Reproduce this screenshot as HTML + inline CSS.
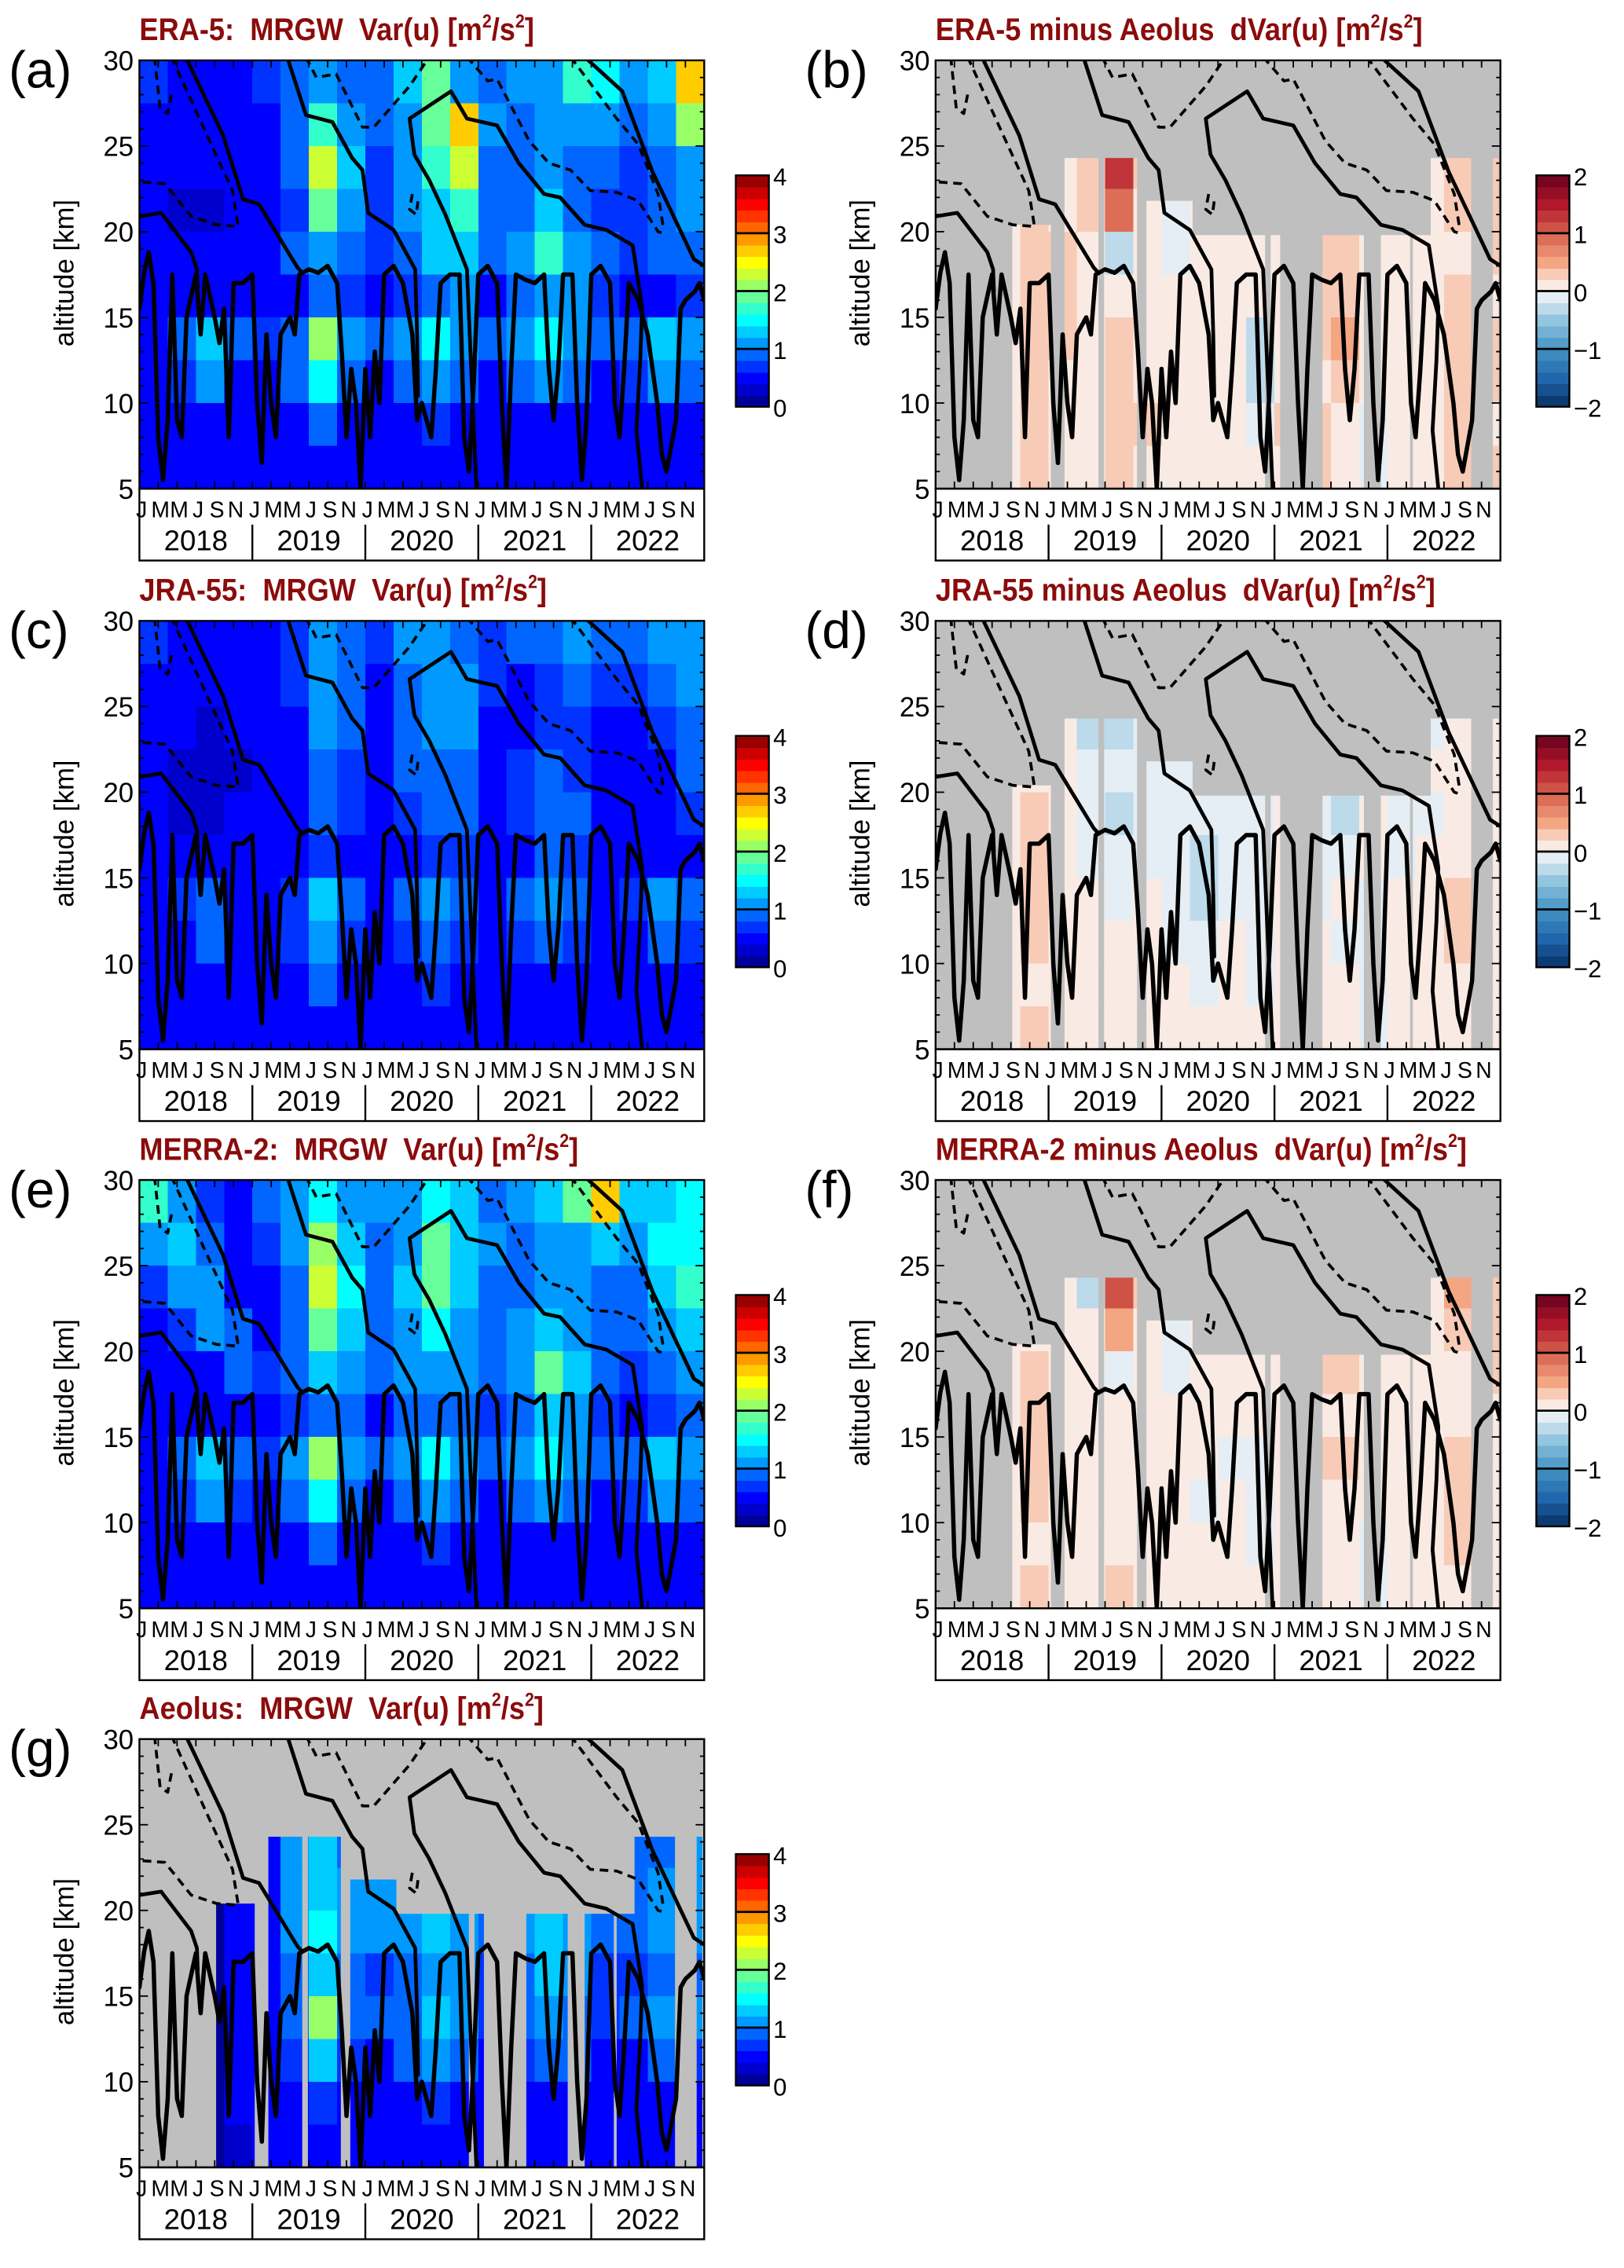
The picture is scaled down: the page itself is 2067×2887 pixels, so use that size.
<!DOCTYPE html>
<html><head><meta charset="utf-8"><style>
html,body{margin:0;padding:0;background:#fff;}
svg{display:block;}
text{font-family:"Liberation Sans",sans-serif;}
</style></head><body>
<svg id="fig" xmlns="http://www.w3.org/2000/svg" width="2067" height="2887" viewBox="0 0 1130 1578" preserveAspectRatio="none"></svg>
<script>
// ---------------- data ----------------
const yearLabels = ['2018','2019','2020','2021','2022'];
const monthLabels = ['J','M','M','J','S','N'];
const altTicks = [5,10,15,20,25,30];
const jetTicks = [0,1,2,3,4];
const divTicks = [-2,-1,0,1,2];
// grids: 10 rows (top 27.5-30 km first ... bottom 5-7.5 km), 20 columns (quarters 2018Q1..2022Q4)
const era5 = [
[0.7,0.5,0.6,0.5,0.7,0.8,1.1,0.8,0.9,1.4,1.8,1.2,0.9,1.0,1.2,1.7,1.5,1.0,1.4,2.6],
[0.5,0.4,0.4,0.5,0.6,0.9,1.6,1.1,0.8,1.2,1.8,2.6,1.0,0.8,1.0,1.1,1.0,0.9,1.1,2.0],
[0.5,0.4,0.4,0.4,0.5,0.8,2.3,1.3,0.7,1.1,1.7,2.3,0.9,0.8,1.0,0.9,0.8,0.7,0.9,1.2],
[0.4,0.3,0.3,0.4,0.5,0.7,1.8,1.1,0.7,1.0,1.4,1.6,0.8,0.9,1.3,0.9,0.7,0.7,0.8,1.0],
[0.5,0.4,0.4,0.5,0.6,0.8,1.2,0.9,0.7,0.9,1.3,1.4,0.8,1.0,1.7,1.2,0.8,0.7,0.8,0.9],
[0.5,0.5,0.5,0.5,0.5,0.6,0.8,0.7,0.6,0.7,0.9,1.0,0.6,0.8,1.2,1.0,0.7,0.6,0.6,0.7],
[0.6,0.9,1.3,0.8,0.7,0.9,2.0,1.0,0.8,1.0,1.5,1.1,0.8,1.0,1.5,1.0,0.8,0.9,1.3,1.0],
[0.5,0.7,1.0,0.6,0.6,0.8,1.5,0.8,0.6,0.8,1.0,0.8,0.6,0.8,1.0,0.8,0.6,0.7,1.0,0.8],
[0.4,0.5,0.6,0.5,0.4,0.6,0.9,0.6,0.5,0.6,0.7,0.6,0.5,0.6,0.6,0.6,0.5,0.5,0.6,0.6],
[0.4,0.4,0.5,0.4,0.4,0.5,0.6,0.5,0.4,0.5,0.6,0.5,0.4,0.5,0.5,0.5,0.4,0.4,0.5,0.5]];
const jra55 = [
[0.7,0.5,0.6,0.5,0.6,0.7,1.0,0.8,0.7,1.0,1.1,0.9,0.7,0.8,0.9,1.0,0.9,0.8,1.0,1.2],
[0.5,0.4,0.4,0.4,0.5,0.7,1.0,0.9,0.6,0.9,1.0,1.0,0.7,0.6,0.7,0.8,0.7,0.7,0.9,1.1],
[0.4,0.4,0.3,0.4,0.4,0.6,1.0,0.8,0.6,0.8,1.0,1.0,0.6,0.6,0.7,0.7,0.6,0.6,0.7,0.9],
[0.4,0.3,0.3,0.3,0.4,0.6,0.9,0.7,0.6,0.8,0.9,0.8,0.6,0.7,0.8,0.7,0.5,0.5,0.6,0.8],
[0.4,0.3,0.3,0.4,0.5,0.6,0.8,0.7,0.5,0.7,0.9,0.8,0.6,0.7,0.9,0.8,0.6,0.5,0.6,0.7],
[0.4,0.4,0.4,0.4,0.4,0.5,0.7,0.6,0.5,0.6,0.7,0.7,0.5,0.6,0.8,0.7,0.5,0.5,0.5,0.6],
[0.5,0.7,0.9,0.6,0.6,0.7,1.4,0.8,0.6,0.8,1.1,0.8,0.6,0.8,1.1,0.8,0.6,0.7,1.0,0.8],
[0.4,0.6,0.8,0.5,0.5,0.7,1.2,0.7,0.5,0.7,0.9,0.7,0.5,0.7,0.9,0.7,0.5,0.6,0.9,0.7],
[0.4,0.5,0.6,0.5,0.4,0.5,0.8,0.6,0.5,0.6,0.7,0.6,0.5,0.6,0.6,0.6,0.5,0.5,0.6,0.6],
[0.4,0.4,0.5,0.4,0.4,0.5,0.6,0.5,0.4,0.5,0.6,0.5,0.4,0.5,0.5,0.5,0.4,0.4,0.5,0.5]];
const merra2 = [
[1.6,1.1,0.7,0.6,0.8,1.0,1.5,1.1,1.0,1.2,1.5,1.3,0.9,1.0,1.3,1.8,2.8,1.4,1.3,1.5],
[1.1,1.3,0.8,0.6,0.7,1.0,2.0,1.3,0.9,1.2,1.8,1.4,1.0,0.9,1.0,1.2,1.4,1.2,1.5,1.5],
[0.7,1.0,1.1,0.6,0.6,0.9,2.3,1.5,0.8,1.3,1.9,1.3,0.9,0.9,1.0,1.0,0.9,0.9,1.3,1.7],
[0.5,0.7,1.0,0.8,0.6,0.8,1.8,1.3,0.9,1.2,1.5,1.2,0.9,1.0,1.4,1.0,0.8,0.8,1.0,1.3],
[0.5,0.5,0.6,0.9,0.7,0.9,1.3,1.1,0.8,1.0,1.2,1.1,0.8,1.2,1.8,1.3,0.8,0.7,0.9,1.0],
[0.6,0.6,0.6,0.6,0.6,0.7,0.9,0.8,0.6,0.8,0.9,0.9,0.7,0.9,1.3,1.0,0.7,0.6,0.7,0.8],
[0.6,0.9,1.3,0.9,0.7,1.0,2.0,1.1,0.8,1.0,1.5,1.1,0.8,1.0,1.5,1.0,0.8,0.9,1.3,1.0],
[0.5,0.7,1.0,0.7,0.6,0.8,1.5,0.8,0.6,0.8,1.0,0.8,0.6,0.8,1.0,0.8,0.6,0.7,1.0,0.8],
[0.4,0.5,0.6,0.5,0.4,0.6,0.9,0.6,0.5,0.6,0.7,0.6,0.5,0.6,0.6,0.6,0.5,0.5,0.6,0.6],
[0.4,0.4,0.5,0.4,0.4,0.5,0.6,0.5,0.4,0.5,0.6,0.5,0.4,0.5,0.5,0.5,0.4,0.4,0.5,0.5]];
const aeolus = [
[0,0,0,0,0,0,0,0,0,0,0,0,0,0,0,0,0,0,0,0],
[0,0,0,0,0,0,0,0,0,0,0,0,0,0,0,0,0,0,0,0],
[0,0,0,0,0.5,1.0,1.3,0.8,0,0,0,0,0,0,0,0,0,0.8,0.9,1.0],
[0,0,0,0.5,0.6,1.0,1.4,1.0,1.2,1.0,0,0,0,0,0,0,0,0.9,1.0,1.0],
[0,0,0,0.5,0.6,1.0,1.5,1.0,1.1,1.0,1.3,1.2,0.9,1.1,1.3,1.0,0.8,0.8,1.0,1.0],
[0,0,0,0.6,0.6,0.8,1.3,0.8,0.7,0.8,1.0,1.2,0.7,0.8,1.3,1.0,0.7,0.7,0.8,0.9],
[0,0,0,0.6,0.6,0.9,2.1,0.9,0.8,0.9,1.4,1.1,0.7,0.8,1.2,0.9,0.7,0.8,1.1,1.0],
[0,0,0,0.5,0.5,0.7,1.4,0.7,0.6,0.8,1.0,0.9,0.5,0.7,0.9,0.8,0.6,0.6,0.8,0.7],
[0,0,0,0.4,0.4,0.5,0.7,0.5,0.5,0.6,0.7,0.6,0.4,0.5,0.6,0.6,0.5,0.5,0.5,0.5],
[0,0,0,0.3,0.4,0.4,0.5,0.4,0.4,0.5,0.6,0.5,0.4,0.5,0.5,0.5,0.4,0.4,0.4,0.4]];
const diffEra5 = [
[0,0,0,0,0,0,0,0,0,0,0,0,0,0,0,0,0,0,0,0],
[0,0,0,0,0,0,0,0,0,0,0,0,0,0,0,0,0,0,0,0],
[0,0,0,0,0,0.2,1.3,0.3,0,0,0,0,0,0,0,0,0,0.1,0.3,0.2],
[0,0,0,0.2,0,0.2,0.9,0.1,-0.1,0,0,0,0,0,0,0,0,0.1,0.2,0.2],
[0,0,0,0.2,0.2,0.1,-0.3,0.0,-0.1,0.1,0.1,0.1,0.1,0.2,0.2,0.0,0.1,0.1,0.1,0.2],
[0,0,0,0.3,0.2,0.1,0.0,0.1,0.1,0.1,0.1,0.0,0.1,0.2,0.2,0.1,0.1,0.1,0.2,0.1],
[0,0,0,0.3,0.2,0.1,0.2,0.1,0.1,0.1,0.0,-0.3,0.1,0.3,0.4,0.1,0.1,0.1,0.3,0.2],
[0,0,0,0.2,0.1,0.1,0.2,0.1,0.1,0.0,0.1,-0.3,0.1,0.1,0.2,0.0,0.0,0.1,0.2,0.2],
[0,0,0,0.2,0.1,0.1,0.2,0.2,0.1,0.0,0.1,-0.2,0.2,0.2,0.1,-0.1,0.0,0.1,0.3,0.1],
[0,0,0,0.2,0.1,0.1,0.3,0.1,0.1,0.0,0.1,0.0,0.0,0.2,0.0,-0.2,0.0,0.1,0.2,0.2]];
const diffJra55 = [
[0,0,0,0,0,0,0,0,0,0,0,0,0,0,0,0,0,0,0,0],
[0,0,0,0,0,0,0,0,0,0,0,0,0,0,0,0,0,0,0,0],
[0,0,0,0,0,-0.4,-0.3,-0.1,0,0,0,0,0,0,0,0,0,-0.1,0.1,0.1],
[0,0,0,0.1,0,-0.1,-0.2,-0.1,-0.2,-0.1,0,0,0,0,0,0,0,0,0.1,0.1],
[0,0,0,0.2,0,-0.2,-0.4,-0.2,-0.2,-0.1,-0.1,-0.1,0,-0.2,-0.3,0,-0.1,-0.1,0,0.1],
[0,0,0,0.2,0,-0.1,-0.2,-0.1,-0.2,-0.3,-0.1,-0.1,0,-0.1,-0.1,0,-0.1,0,0.1,0.1],
[0,0,0,0.2,0.1,0,-0.1,0,-0.1,-0.3,-0.1,-0.2,0,-0.1,0,-0.1,0,0,0.2,0.1],
[0,0,0,0.2,0.1,0,0,0,-0.1,-0.1,0,-0.1,0,0.1,-0.1,-0.1,0,0,0.3,0.1],
[0,0,0,0.1,0.1,0.1,0,0,0,-0.1,0,-0.1,0,0.1,0,-0.1,0,0,0.1,0.1],
[0,0,0,0.2,0.1,0.1,0.1,0,0,0,0.1,0,0,0.1,0,-0.1,0,0,0.1,0.1]];
const diffMerra2 = [
[0,0,0,0,0,0,0,0,0,0,0,0,0,0,0,0,0,0,0,0],
[0,0,0,0,0,0,0,0,0,0,0,0,0,0,0,0,0,0,0,0],
[0,0,0,0,0,-0.3,1.0,0.2,0,0,0,0,0,0,0,0,0,0.1,0.5,0.2],
[0,0,0,0.1,0,0.1,0.6,0.1,-0.1,0,0,0,0,0,0,0,0,0.1,0.2,0.2],
[0,0,0,0.2,0.1,0,-0.1,0,-0.1,0.1,0.1,0.1,0.1,0.2,0.2,0,0.1,0.1,0.1,0.2],
[0,0,0,0.2,0.1,0.1,0,0.1,0.1,0,0.1,0,0.1,0.1,0.1,0.1,0.1,0.1,0.1,0.1],
[0,0,0,0.2,0.1,0.1,0.1,0,0.1,0,-0.1,-0.2,0.1,0.2,0.2,0.1,0.1,0.1,0.2,0.1],
[0,0,0,0.2,0.1,0.1,0.1,0.1,0,-0.1,0.1,-0.2,0.1,0.1,0.1,0,0,0.1,0.2,0.1],
[0,0,0,0.1,0.1,0.1,0.1,0.1,0.1,0,0.1,-0.1,0.1,0.1,0.1,-0.1,0,0.1,0.2,0.1],
[0,0,0,0.2,0.1,0.1,0.2,0.1,0.1,0,0.1,0,0,0.1,0,-0.1,0,0.1,0.1,0.1]];
// Aeolus data coverage (months since Jan 2018, top altitude km)
const covStart = [8.15,13.7,17.9,22.4,27.3,35.6,41.1,47.3,50.7,52.6,59.2];
const covEnd   = [12.25,17.3,21.4,27.3,35.0,36.6,45.5,50.4,52.6,56.9,59.8];
const covTop   = [20.4,24.3,24.3,21.8,19.8,19.8,19.8,19.8,19.8,24.3,24.3];
// zonal wind contours: [month, altitude km]
const solidContours = [
[[5.0,30.1],[8.9,25.6],[11,21.9],[12.7,21.6],[16.8,17.9],[17.3,17.6]],
[[15.7,30.2],[17.7,26.8],[20.5,26.4],[22.6,24.3],[23.7,23.6],[24.3,21.1],[27,20.1],[29.3,17.8],[29.5,14],[29.6,10.4]],
[[53.4,5],[52.8,8.4],[53.2,12.5],[53.4,15.6],[52.4,19.2],[49.6,20.1],[47.3,20.4],[44.7,22.0],[43,22.2],[40.3,24.0],[38,26.2],[34.8,26.6],[33.1,28.2],[28.7,26.6],[29.2,24.5],[30.8,23],[32.5,21],[34.8,17.8],[35.2,12.5],[35.8,5]],
[[47.3,30.2],[51.3,28.2],[54.5,23.5],[58.9,18.4],[60.3,17.9]],
[[0,20.9],[2.3,21.1],[5.5,18.8],[6.1,17.8],[6.2,16.5]]];
const dashedContours = [
[[1.6,30.2],[2.2,27.2],[3.0,26.9],[3.4,28]],
[[3.4,30.2],[7.2,25.6],[9.9,22.4],[10.5,20.3],[8.2,20.4],[5.5,20.9],[2.7,22.8],[0.3,22.9],[0,22.8]],
[[17.7,30.2],[18.8,29],[20.9,29.2],[23.7,26.1],[24.9,26.1],[28.7,28.5],[30.8,30.2]],
[[34.8,30.2],[37,28.8],[38,28.9],[41.4,25.3],[43.5,24],[45.8,23.6],[47.9,22.4],[50.7,22.3],[53,21.8],[55.1,20],[55.7,19.9]],
[[45.8,30.2],[50.7,26.6],[53,25.1],[55.1,22.2],[55.7,20.1]],
[[29.0,22.2],[28.7,21.3],[29.4,21.0],[29.6,21.8]]];
const tropoContour = [[0,15.5],[0.5,17.6],[1,18.8],[1.5,17],[2,8],[2.5,5.5],[3,9],[3.5,17.5],[4,9],[4.5,8],[5,15],[6,17.5],[6.5,14],[7,17.5],[8,15],[8.5,13.5],[9,15.5],[9.5,8],[10,17],[11,17],[12,17.5],[12.5,10],[13,6.5],[13.5,14],[14,10],[14.5,8],[15,14],[16,15],[16.5,14],[17,17.5],[18,17.8],[19,17.6],[20,18],[21,17],[21.5,13],[22,8],[22.5,12],[23,10],[23.5,5],[24,12],[24.5,8],[25,13],[25.5,10],[26,17.5],[27,18],[28,17],[29,14],[29.5,9],[30,10],[31,8],[31.5,12],[32,17],[33,17.5],[34,17.5],[34.5,8],[35,6],[35.5,11],[36,17.5],[37,18],[38,17],[38.5,10],[39,5],[39.5,12],[40,17.5],[41,17.2],[42,17],[43,17.5],[43.5,12],[44,9],[44.5,12],[45,17.5],[46,17.5],[46.5,10],[47,5.5],[47.5,9],[48,17.5],[49,18],[50,17],[50.5,10],[51,8],[51.5,12],[52,17],[53,16],[54,14],[55,10],[55.5,7],[56,6],[57,9],[57.5,15.5],[58,16],[59,16.5],[59.5,17],[60,16]];

// ---------------- drawing ----------------
const NS='http://www.w3.org/2000/svg';
const svg=document.getElementById('fig');
function mk(tag,attrs,parent){const e=document.createElementNS(NS,tag);for(const k in attrs)e.setAttribute(k,attrs[k]);(parent||svg).appendChild(e);return e;}
function clamp(v){return Math.max(0,Math.min(1,v));}
function jet(v){const t=clamp((Math.floor(v/0.2)*0.2+0.1)/4.0);
  const r=clamp(1.5-Math.abs(4*t-3)),g=clamp(1.5-Math.abs(4*t-2)),b=clamp(1.5-Math.abs(4*t-1));
  return `rgb(${Math.round(r*255)},${Math.round(g*255)},${Math.round(b*255)})`;}
const rdStops=[[-2,[5,48,97]],[-1.5,[33,102,172]],[-1,[67,147,195]],[-0.5,[146,197,222]],[-0.2,[209,229,240]],[0,[247,247,247]],[0.2,[250,222,208]],[0.5,[244,165,130]],[1,[214,96,77]],[1.5,[178,24,43]],[2,[103,0,31]]];
function rdbu(v){v=Math.floor(v/0.2)*0.2+0.1;v=Math.max(-2,Math.min(2,v));
  for(let i=0;i<rdStops.length-1;i++){const a=rdStops[i],b=rdStops[i+1];if(v<=b[0]){const f=(v-a[0])/(b[0]-a[0]);const c=a[1].map((x,j)=>Math.round(x+(b[1][j]-x)*f));return `rgb(${c})`;}}
  return 'rgb(103,0,31)';}

const panels=[
 {id:'a',x0:97,y0:42,grid:era5,div:false,cov:false,title:'ERA-5:  MRGW  Var(u) [m',titleEnd:'/s'},
 {id:'b',x0:651,y0:42,grid:diffEra5,div:true,cov:true,title:'ERA-5 minus Aeolus  dVar(u) [m',titleEnd:'/s'},
 {id:'c',x0:97,y0:432,grid:jra55,div:false,cov:false,title:'JRA-55:  MRGW  Var(u) [m',titleEnd:'/s'},
 {id:'d',x0:651,y0:432,grid:diffJra55,div:true,cov:true,title:'JRA-55 minus Aeolus  dVar(u) [m',titleEnd:'/s'},
 {id:'e',x0:97,y0:821,grid:merra2,div:false,cov:false,title:'MERRA-2:  MRGW  Var(u) [m',titleEnd:'/s'},
 {id:'f',x0:651,y0:821,grid:diffMerra2,div:true,cov:true,title:'MERRA-2 minus Aeolus  dVar(u) [m',titleEnd:'/s'},
 {id:'g',x0:97,y0:1210,grid:aeolus,div:false,cov:true,title:'Aeolus:  MRGW  Var(u) [m',titleEnd:'/s'}];

const W=393,H=298;
panels.forEach(p=>{
  const g=mk('g',{});
  
  
  const xS=m=>p.x0+m*W/60, yS=a=>p.y0+H-(a-5)*H/25;
  const cp=mk('clipPath',{id:'clip'+p.id},g);
  mk('rect',{x:p.x0,y:p.y0,width:W,height:H},cp);
  let dataClip='clip'+p.id;
  if(p.cov){
    const cc=mk('clipPath',{id:'cov'+p.id},g);
    covStart.forEach((s,i)=>{mk('rect',{x:xS(s),y:yS(covTop[i]),width:xS(covEnd[i])-xS(s),height:yS(5)-yS(covTop[i])},cc);});
    const bg=mk('rect',{x:p.x0,y:p.y0,width:W,height:H,fill:'#bfbfbf'},g);
    
    
    dataClip='cov'+p.id;
  }
  const hm=mk('g',{'clip-path':`url(#${dataClip})`,'shape-rendering':'crispEdges'},g);
  
  
  p.grid.forEach((row,r)=>{
    const aTop=30-r*2.5;
    row.forEach((v,c)=>{
      const cell=mk('rect',{x:xS(c*3),y:yS(aTop),width:xS(3)-xS(0)+0.6,height:yS(0)-yS(2.5)+0.6,fill:p.div?rdbu(v):jet(v)},hm);
      
      
    });
  });
  const cg=mk('g',{'clip-path':`url(#clip${p.id})`,fill:'none',stroke:'#000','stroke-linejoin':'round','stroke-linecap':'round'},g);
  
  
  const pts=arr=>arr.map(q=>xS(q[0]).toFixed(1)+','+yS(q[1]).toFixed(1)).join(' ');
  solidContours.forEach(c=>{const l=mk('polyline',{points:pts(c),'stroke-width':2.6},cg);});
  dashedContours.forEach(c=>{const l=mk('polyline',{points:pts(c),'stroke-width':2,'stroke-dasharray':'6,4','stroke-linecap':'butt'},cg);});
  const tl=mk('polyline',{points:pts(tropoContour),'stroke-width':3},cg);
  
  
  const fr=mk('rect',{x:p.x0,y:p.y0,width:W,height:H,fill:'none',stroke:'#000','stroke-width':1.3},g);
  
  
  for(let a=5;a<=30;a++){const len=a%5===0?6:3;
    mk('line',{x1:p.x0,x2:p.x0+len,y1:yS(a),y2:yS(a),stroke:'#000','stroke-width':1},g);
    mk('line',{x1:p.x0+W,x2:p.x0+W-len,y1:yS(a),y2:yS(a),stroke:'#000','stroke-width':1},g);}
  altTicks.forEach(a=>{const t=mk('text',{x:p.x0-4,y:yS(a)+7,'font-size':19,'text-anchor':'end'},g);t.textContent=a;
    });
  for(let m=0;m<=60;m+=2){
    mk('line',{x1:xS(m),x2:xS(m),y1:p.y0,y2:p.y0+5,stroke:'#000','stroke-width':1},g);
    mk('line',{x1:xS(m),x2:xS(m),y1:p.y0+H,y2:p.y0+H-5,stroke:'#000','stroke-width':1},g);}
  yearLabels.forEach((yl,yi)=>{
    monthLabels.forEach((ml,mi)=>{const t=mk('text',{x:xS(yi*12+mi*2)+1.5,y:p.y0+H+20,'font-size':15.5,'text-anchor':'middle'},g);t.textContent=ml;
      });
    const t=mk('text',{x:xS(yi*12+6),y:p.y0+H+43,'font-size':20,'text-anchor':'middle'},g);t.textContent=yl;
    
    if(yi>0)mk('line',{x1:xS(yi*12),x2:xS(yi*12),y1:p.y0+H+25,y2:p.y0+H+50,stroke:'#000','stroke-width':1.3},g);
  });
  const yb=mk('rect',{x:p.x0,y:p.y0+H,width:W,height:50,fill:'none',stroke:'#000','stroke-width':1.3},g);
  
  
  const yt=mk('text',{x:0,y:0,'font-size':19,'text-anchor':'middle',transform:`translate(${p.x0-46},${p.y0+148}) rotate(-90)`},g);
  yt.textContent='altitude [km]';
  
  
  const pl=mk('text',{x:p.x0-91,y:p.y0+19,'font-size':36},g);
  pl.textContent='('+p.id+')';
  
  
  const sc=0.9;
  const tt=mk('text',{x:p.x0/sc,y:p.y0-14,'font-size':22,'font-weight':'bold',fill:'#8b0b0b',transform:`scale(${sc},1)`},g);
  
  
  tt.setAttribute('style','white-space:pre');
  const s1=mk('tspan',{},tt);s1.textContent=p.title;
  const s2=mk('tspan',{dy:-9,'font-size':13},tt);s2.textContent='2';
  const s3=mk('tspan',{dy:9},tt);s3.textContent=p.titleEnd;
  const s4=mk('tspan',{dy:-9,'font-size':13},tt);s4.textContent='2';
  const s5=mk('tspan',{dy:9},tt);s5.textContent=']';
  const cbx=p.div?p.x0+418:p.x0+415, cbT=p.y0+80, cbB=p.y0+241;
  const cb=mk('g',{},g);
  
  
  const lo=p.div?-2:0, hi=p.div?2:4, n=20;
  for(let i=0;i<n;i++){const v0=lo+(hi-lo)*i/n;const y0=cbB-(cbB-cbT)*(i+1)/n;
    mk('rect',{x:cbx,y:y0,width:23,height:(cbB-cbT)/n+0.4,fill:p.div?rdbu(v0+0.01):jet(v0+0.01),'shape-rendering':'crispEdges'},cb);}
  const ticks=p.div?divTicks:jetTicks;
  ticks.forEach(v=>{const y=cbB-(v-lo)/(hi-lo)*(cbB-cbT);
    if(v>lo&&v<hi)mk('line',{x1:cbx,x2:cbx+23,y1:y,y2:y,stroke:'#000','stroke-width':1.5},cb);
    const t=mk('text',{x:cbx+26,y:y+7,'font-size':17},cb);t.textContent=(v<0?'\u2212'+(-v):v);
    });
  mk('rect',{x:cbx,y:cbT,width:23,height:cbB-cbT,fill:'none',stroke:'#000','stroke-width':1.3},cb);
});
</script>
</body></html>
